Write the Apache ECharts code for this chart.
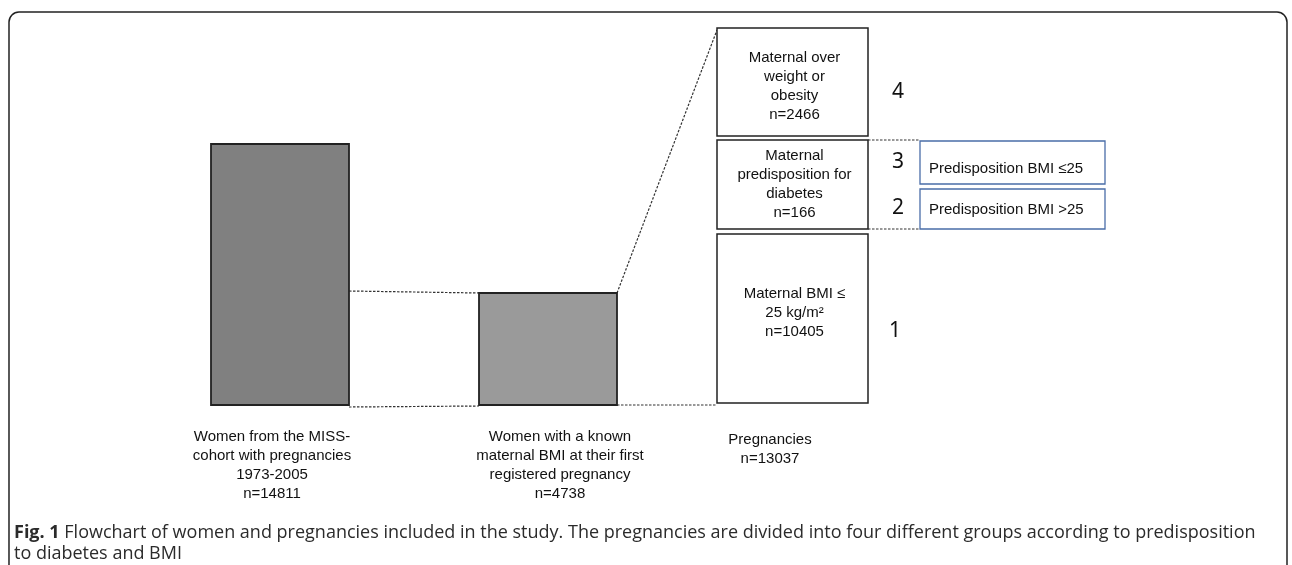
<!DOCTYPE html>
<html>
<head>
<meta charset="utf-8">
<script src="https://cdn.jsdelivr.net/npm/echarts@6/dist/echarts.min.js"></script>
<style>
  html, body { margin: 0; padding: 0; background: #fff; }
  #chart { width: 1292px; height: 565px; }
</style>
</head>
<body>
<div id="chart"></div>
<script>
// 流程图数据 (schematic units: x = horizontal slot, y = height above baseline)
const stageLabels = [
  'Women from the MISS-\ncohort with pregnancies\n1973-2005',
  'Women with a known\nmaternal BMI at their first\nregistered pregnancy',
  'Pregnancies'
];
const stageCounts = [14811, 4738, 13037];
const stageLabelX = [272, 560, 770];

// 灰色柱子
const barX = [[211, 349], [479, 617]];
const barTop = [261, 112];
const barColors = ['#808080', '#9a9a9a'];

// 右侧分组框
const groupNames = ['Maternal over\nweight or\nobesity', 'Maternal\npredisposition for\ndiabetes', 'Maternal BMI \u2264\n25 kg/m\u00b2'];
const groupCounts = [2466, 166, 10405];
const groupX = [717, 868];
const groupBottom = [269, 176, 2];
const groupTop = [377, 265, 171];

// 分组编号
const groupIds = ['4', '3', '2', '1'];
const groupIdX = [898, 898, 898, 895];
const groupIdY = [313, 243, 197, 74];

// 蓝色子框
const subNames = ['Predisposition BMI \u226425', 'Predisposition BMI >25'];
const subX = [920, 1105];
const subBottom = [221, 176];
const subTop = [264, 216];

// 虚线连接
const links = [
  [[349, 114], [479, 112]],
  [[349, -2], [479, -1]],
  [[617, 0], [717, 0]],
  [[617, 112], [717, 375]],
  [[868, 265], [920, 265]],
  [[868, 176], [920, 176]]
];

const chart = echarts.init(document.getElementById('chart'));

const boxText = {
  fontFamily: 'Liberation Sans, Arial',
  fontSize: 15,
  lineHeight: 19,
  fill: '#111',
  align: 'center',
  verticalAlign: 'middle'
};
// 框内文字的垂直微调
const textShift = [4, 0, -6];

const option = {
  animation: false,
  backgroundColor: '#fff',
  grid: { left: 0, right: 0, top: 0, bottom: 0 },
  xAxis: { type: 'value', min: 0, max: 1292, show: false },
  yAxis: { type: 'value', min: -160, max: 405, show: false },
  title: {
    left: 14,
    top: 522,
    padding: 0,
    text: '{b|Fig. 1} Flowchart of women and pregnancies included in the study. The pregnancies are divided into four different groups according to predisposition\nto diabetes and BMI',
    textStyle: {
      fontFamily: 'Open Sans',
      fontSize: 18,
      fontWeight: 'normal',
      color: '#2b2b2b',
      lineHeight: 21,
      rich: {
        b: { fontFamily: 'Open Sans', fontSize: 18, fontWeight: 'bold', color: '#2b2b2b', lineHeight: 21 }
      }
    }
  },
  graphic: [{
    type: 'rect',
    shape: { x: 9, y: 12, width: 1278, height: 600, r: 10 },
    style: { fill: 'none', stroke: '#222', lineWidth: 1.5 },
    silent: true
  }],
  series: [
    {
      // 虚线
      type: 'custom',
      data: links.map((l, i) => [i]),
      renderItem: function (params, api) {
        const l = links[api.value(0)];
        const a = api.coord(l[0]);
        const b = api.coord(l[1]);
        return {
          type: 'line',
          shape: { x1: a[0], y1: a[1], x2: b[0], y2: b[1] },
          style: { stroke: '#333', lineWidth: 1.2, lineDash: [2.5, 1.5] }
        };
      }
    },
    {
      // 灰色柱子
      type: 'custom',
      data: barTop.map((t, i) => [i]),
      renderItem: function (params, api) {
        const i = api.value(0);
        const p0 = api.coord([barX[i][0], barTop[i]]);
        const p1 = api.coord([barX[i][1], 0]);
        return {
          type: 'rect',
          shape: { x: p0[0], y: p0[1], width: p1[0] - p0[0], height: p1[1] - p0[1] },
          style: { fill: barColors[i], stroke: '#222', lineWidth: 1.8 }
        };
      }
    },
    {
      // 右侧分组框
      type: 'custom',
      data: groupCounts.map((c, i) => [i]),
      renderItem: function (params, api) {
        const i = api.value(0);
        const p0 = api.coord([groupX[0], groupTop[i]]);
        const p1 = api.coord([groupX[1], groupBottom[i]]);
        const w = p1[0] - p0[0], h = p1[1] - p0[1];
        return {
          type: 'group',
          children: [
            {
              type: 'rect',
              shape: { x: p0[0], y: p0[1], width: w, height: h },
              style: { fill: '#fff', stroke: '#222', lineWidth: 1.5 }
            },
            {
              type: 'text',
              x: p0[0] + w / 2 + 2,
              y: p0[1] + h / 2 + textShift[i],
              style: Object.assign({ text: groupNames[i] + '\nn=' + groupCounts[i] }, boxText)
            }
          ]
        };
      }
    },
    {
      // 蓝色子框
      type: 'custom',
      data: subNames.map((n, i) => [i]),
      renderItem: function (params, api) {
        const i = api.value(0);
        const p0 = api.coord([subX[0], subTop[i]]);
        const p1 = api.coord([subX[1], subBottom[i]]);
        const w = p1[0] - p0[0], h = p1[1] - p0[1];
        return {
          type: 'group',
          children: [
            {
              type: 'rect',
              shape: { x: p0[0], y: p0[1], width: w, height: h },
              style: { fill: '#fff', stroke: '#4a6da8', lineWidth: 1.3 }
            },
            {
              type: 'text',
              x: p0[0] + 9,
              y: p0[1] + h / 2 + (i === 0 ? 6 : 1),
              style: Object.assign({}, boxText, { text: subNames[i], align: 'left' })
            }
          ]
        };
      }
    },
    {
      // 分组编号
      type: 'custom',
      data: groupIds.map((g, i) => [groupIdX[i], groupIdY[i]]),
      renderItem: function (params, api) {
        const p = api.coord([api.value(0), api.value(1)]);
        return {
          type: 'text',
          x: p[0],
          y: p[1],
          style: {
            text: groupIds[params.dataIndex],
            fontFamily: 'Noto Sans',
            fontSize: 21,
            fill: '#111',
            align: 'center',
            verticalAlign: 'middle'
          }
        };
      }
    },
    {
      // 底部说明
      type: 'custom',
      data: stageLabels.map((s, i) => [stageLabelX[i], i === 2 ? -34 : -31]),
      renderItem: function (params, api) {
        const p = api.coord([api.value(0), api.value(1)]);
        const i = params.dataIndex;
        return {
          type: 'text',
          x: p[0],
          y: p[1] - 8,
          style: Object.assign({}, boxText, {
            text: stageLabels[i] + '\nn=' + stageCounts[i],
            lineHeight: 18.7,
            verticalAlign: 'top'
          })
        };
      }
    }
  ]
};

chart.setOption(option);
</script>
</body>
</html>
